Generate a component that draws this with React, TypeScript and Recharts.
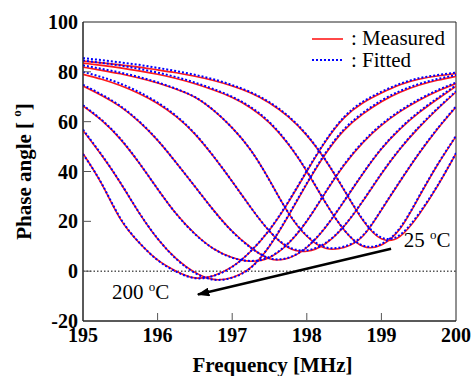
import {
  Label,
  Legend,
  Line,
  LineChart,
  ReferenceArea,
  ReferenceDot,
  ReferenceLine,
  XAxis,
  YAxis,
} from "recharts";

const SERIF = "'Liberation Serif', 'Times New Roman', serif";
const RED = "#ff1a1a";
const BLUE = "#0000ff";
const AXIS = "#222";
const TICK = "#555";

// frequency grid [MHz]
const FREQ = [
  195, 195.25, 195.5, 195.75, 196, 196.25, 196.5, 196.75, 197, 197.25, 197.5,
  197.75, 198, 198.25, 198.5, 198.75, 199, 199.25, 199.5, 199.75, 200,
];
const X_TICKS = [195, 196, 197, 198, 199, 200];
const Y_TICKS = [-20, 0, 20, 40, 60, 80, 100];

// measured phase angle, 200 degC curve first, 25 degC curve last
const meas1 = [47.2, 35, 21, 11.5, 4.5, 0, -2.7, -1.8, 1.8, 8, 16.5, 27.5, 40, 52, 61.5, 67.5, 71.5, 74.8, 77, 78.3, 79.3];
const meas2 = [56.5, 46.5, 35.5, 23.5, 13, 5, -0.5, -3.3, -2.5, 1.5, 10, 22, 35, 47, 56.5, 63, 68, 71.8, 74.6, 76.6, 78.2];
const meas3 = [66.3, 60.5, 53, 43.5, 33, 23, 15, 9, 5.5, 4, 5.5, 11, 20, 31.5, 42.5, 51.5, 58.5, 64, 68.5, 72.2, 75.3];
const meas4 = [74.3, 70.5, 66, 60, 52.5, 43.5, 34, 24.5, 16, 9.5, 5, 5.2, 9.5, 17.5, 28, 39, 49, 57, 63.5, 69, 74.2];
const meas5 = [79, 77, 74.5, 71.3, 67.3, 62, 55, 46, 36, 25.5, 16, 9.5, 8, 11, 18, 28, 39, 49, 57.5, 65, 71.9];
const meas6 = [81.9, 80.6, 79.2, 77.5, 75.5, 73, 69.8, 64.5, 57.5, 48.5, 36.5, 23.5, 14, 9.2, 9.5, 14, 24.5, 36, 47, 57, 65.9];
const meas7 = [83.5, 82.6, 81.6, 80.4, 79, 77.3, 75.2, 72.7, 69.7, 65.5, 59.5, 51, 40, 27.5, 16.5, 10, 10.5, 17, 29.5, 42.5, 54.1];
const meas8 = [84.3, 83.6, 82.8, 81.9, 80.8, 79.6, 78.2, 76.5, 74.3, 71.5, 67.5, 62, 54.5, 44.5, 32.5, 20.5, 13, 14, 22.5, 34, 47.2];

// fitted phase angle, same order
const fit1 = [47, 35.2, 21.3, 11.6, 4.4, -0.2, -2.8, -1.9, 1.7, 8.1, 16.7, 27.8, 40.3, 52.3, 61.9, 68, 72, 75.2, 77.4, 78.7, 79.7];
const fit2 = [56.8, 46.7, 35.6, 23.6, 13.1, 4.9, -0.7, -3.4, -2.6, 1.4, 10.2, 22.3, 35.3, 47.4, 57, 63.5, 68.5, 72.3, 75.1, 77.1, 78.7];
const fit3 = [66.6, 60.7, 53.2, 43.6, 33, 23, 14.9, 9, 5.4, 4.1, 5.7, 11.2, 20.2, 31.7, 42.8, 51.8, 58.9, 64.4, 68.9, 72.6, 75.7];
const fit4 = [74.8, 70.9, 66.3, 60.2, 52.6, 43.5, 34, 24.4, 15.9, 9.4, 5.2, 5.4, 9.7, 17.7, 28.2, 39.2, 49.2, 57.3, 63.9, 69.4, 74.6];
const fit5 = [80, 77.9, 75.3, 71.9, 67.7, 62.3, 55.2, 46.1, 36, 25.5, 16.1, 9.8, 8.4, 11.3, 18.2, 28.2, 39.2, 49.2, 57.8, 65.3, 72.2];
const fit6 = [82.6, 81.2, 79.7, 77.9, 75.8, 73.2, 69.9, 64.6, 57.5, 48.5, 36.4, 23.6, 14.3, 9.6, 9.9, 14.3, 24.7, 36.2, 47.2, 57.2, 66.1];
const fit7 = [84.6, 83.6, 82.5, 81.2, 79.7, 77.9, 75.7, 73.1, 70, 65.8, 59.8, 51.2, 40.2, 27.6, 16.6, 10.3, 10.9, 17.4, 29.8, 42.7, 54.3];
const fit8 = [85.5, 84.7, 83.8, 82.8, 81.6, 80.3, 78.8, 77, 74.7, 71.8, 67.8, 62.3, 54.7, 44.7, 32.7, 20.8, 13.5, 14.6, 23, 34.3, 47.4];

const MEASURED = [meas1, meas2, meas3, meas4, meas5, meas6, meas7, meas8];
const FITTED = [fit1, fit2, fit3, fit4, fit5, fit6, fit7, fit8];

// arrow from the 25 degC dip towards the 200 degC dip
const ARROW_FROM = { x: 199.13, y: 9 };
const ARROW_TO = { x: 196.54, y: -9.4 };

const rows = FREQ.map((f, i) => {
  const row: Record<string, number> = { f };
  MEASURED.forEach((s, k) => (row[`m${k}`] = s[i]));
  FITTED.forEach((s, k) => (row[`p${k}`] = s[i]));
  return row;
});

const XTick = (props: any) => {
  const { x, y, payload } = props;
  const v = payload.value;
  return (
    <g>
      {v > 195 && v < 200 && (
        <line x1={x} x2={x} y1={y} y2={y - 8} stroke={TICK} />
      )}
      <text x={x} y={y + 21} textAnchor="middle" fontSize={20} fontWeight="bold" fontFamily={SERIF} fill="#000">
        {v}
      </text>
    </g>
  );
};

const YTick = (props: any) => {
  const { x, y, payload } = props;
  const v = payload.value;
  return (
    <g>
      {v > -20 && v < 100 && (
        <line x1={x} x2={x + 8} y1={y} y2={y} stroke={TICK} />
      )}
      <text x={x - 5} y={y + 7} textAnchor="end" fontSize={20} fontWeight="bold" fontFamily={SERIF} fill="#000">
        {v}
      </text>
    </g>
  );
};

const YTitle = (props: any) => {
  const vb = props.viewBox;
  const cx = 24;
  const cy = vb.y + vb.height / 2;
  return (
    <text
      x={cx}
      y={cy}
      transform={`rotate(-90 ${cx} ${cy})`}
      textAnchor="middle"
      dominantBaseline="central"
      fontSize={21}
      fontWeight="bold"
      fontFamily={SERIF}
      fill="#000"
    >
      Phase angle [ <tspan dy={-8} fontSize={13}>o</tspan>
      <tspan dy={8}>]</tspan>
    </text>
  );
};

const TempText = (label: string) => (p: any) => (
  <text x={p.cx} y={p.cy} fontSize={21} fontFamily={SERIF} fill="#000">
    {label} <tspan dy={-8} fontSize={13}>o</tspan>
    <tspan dy={8}>C</tspan>
  </text>
);

const LegendBox = () => (
  <svg width={170} height={50}>
    <line x1={7} x2={38} y1={15} y2={15} stroke={RED} strokeWidth={1.6} />
    <text x={46} y={21} fontSize={21} fontFamily={SERIF} fill="#000">: Measured</text>
    <line x1={7} x2={38} y1={36} y2={36} stroke={BLUE} strokeWidth={2} strokeDasharray="2 2" />
    <text x={46} y={43} fontSize={21} fontFamily={SERIF} fill="#000">: Fitted</text>
  </svg>
);

export default function App() {
  return (
    <div style={{ position: "absolute", left: 0, top: 0, width: 473, height: 376, background: "#fff" }}>
      <LineChart width={473} height={376} data={rows} margin={{ top: 22, right: 17, bottom: 0, left: 0 }}>
        <defs>
          <marker id="arrowHead" markerWidth={5} markerHeight={3.6} refX={4.6} refY={1.8} orient="auto" markerUnits="strokeWidth">
            <path d="M0,0 L5,1.8 L0,3.6 z" fill="#000" />
          </marker>
        </defs>
        <XAxis
          dataKey="f"
          type="number"
          domain={[195, 200]}
          ticks={X_TICKS}
          height={55}
          tickSize={0}
          tickMargin={0}
          tickLine={false}
          tick={<XTick />}
          axisLine={{ stroke: AXIS }}
          allowDataOverflow
        >
          <Label
            value="Frequency [MHz]"
            position="center"
            dx={3}
            dy={16}
            fontSize={21}
            fontWeight="bold"
            fontFamily={SERIF}
            fill="#000"
          />
        </XAxis>
        <YAxis
          type="number"
          domain={[-20, 100]}
          ticks={Y_TICKS}
          width={83}
          tickSize={0}
          tickMargin={0}
          tickLine={false}
          tick={<YTick />}
          axisLine={{ stroke: AXIS }}
          allowDataOverflow
        >
          <Label content={<YTitle />} />
        </YAxis>
        <ReferenceArea x1={195} x2={200} y1={-20} y2={100} fill="none" stroke={AXIS} strokeWidth={1} />
        <ReferenceLine y={0} stroke="#000" strokeWidth={1} strokeDasharray="1.5 2" />
        {MEASURED.map((_, k) => (
          <Line
            key={`m${k}`}
            type="natural"
            dataKey={`m${k}`}
            stroke={RED}
            strokeWidth={1.6}
            dot={false}
            activeDot={false}
            legendType="none"
            isAnimationActive={false}
          />
        ))}
        {FITTED.map((_, k) => (
          <Line
            key={`p${k}`}
            type="natural"
            dataKey={`p${k}`}
            stroke={BLUE}
            strokeWidth={2}
            strokeDasharray="2 2"
            dot={false}
            activeDot={false}
            legendType="none"
            isAnimationActive={false}
          />
        ))}
        <ReferenceLine
          segment={[ARROW_FROM, ARROW_TO]}
          stroke="#000"
          strokeWidth={2.5}
          shape={(p: any) => (
            <line x1={p.x1} y1={p.y1} x2={p.x2} y2={p.y2} stroke="#000" strokeWidth={2.5} markerEnd="url(#arrowHead)" />
          )}
        />
        <ReferenceDot x={199.3} y={9.6} r={0} shape={TempText("25")} />
        <ReferenceDot x={195.39} y={-11.2} r={0} shape={TempText("200")} />
        <Legend
          layout="vertical"
          align="center"
          verticalAlign="middle"
          content={<LegendBox />}
          wrapperStyle={{ position: "absolute", left: 305, top: 24, width: 170, height: 50 }}
        />
      </LineChart>
    </div>
  );
}
